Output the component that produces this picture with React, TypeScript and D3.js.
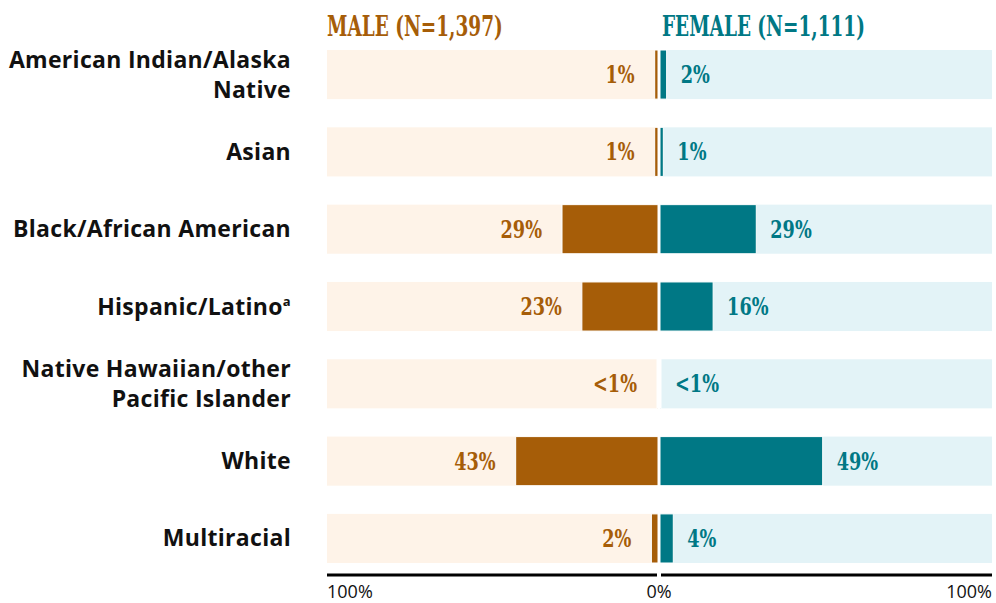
import React from 'react';
import * as d3 from 'd3';

const categories = [
  ['American Indian/Alaska', 'Native'],
  ['Asian'],
  ['Black/African American'],
  ['Hispanic/Latino'],
  ['Native Hawaiian/other', 'Pacific Islander'],
  ['White'],
  ['Multiracial'],
];
const maleValues = [1, 1, 29, 23, 0.3, 43, 2];
const femaleValues = [2, 1, 29, 16, 0.3, 49, 4];
const maleLabels = ['1%', '1%', '29%', '23%', '<1%', '43%', '2%'];
const femaleLabels = ['2%', '1%', '29%', '16%', '<1%', '49%', '4%'];
const superscripts = ['', '', '', 'a', '', '', ''];
const axisTicks = ['100%', '0%', '100%'];

const W = 996;
const H = 603;
const BROWN = '#A65D08';
const BROWN_LIGHT = '#FEF3E8';
const TEAL = '#007885';
const TEAL_LIGHT = '#E3F3F7';
const SANS = '"Open Sans", Lato, sans-serif';
const SLAB = '"DejaVu Serif Condensed", "DejaVu Serif", serif';

const App = () => {
  const cx = 659;
  const xL = d3.scaleLinear().domain([0, 100]).range([cx - 1, 327]);
  const xR = d3.scaleLinear().domain([0, 100]).range([cx + 1, 992]);
  const y = d3.scaleBand<number>()
    .domain(d3.range(categories.length))
    .range([50, 563])
    .paddingInner(0.365);
  const bw = y.bandwidth();
  const axisY = 575;

  return (
    <svg width={W} height={H} style={{ position: 'absolute', left: 0, top: 0 }}>
      <text transform="translate(327,36) scale(0.76,1)" fill={BROWN} fontFamily={SLAB}
        fontWeight={700} fontSize={27}>MALE (N=1,397)</text>
      <text transform="translate(662,36) scale(0.76,1)" fill={TEAL} fontFamily={SLAB}
        fontWeight={700} fontSize={27}>FEMALE (N=1,111)</text>

      {categories.map((lines, i) => {
        const y0 = y(i)!;
        const mid = y0 + bw / 2;
        return (
          <g key={i}>
            <rect x={xL(100)} y={y0} width={xL(0) - xL(100) - 1} height={bw} fill={BROWN_LIGHT} />
            <rect x={xR(0) + 1} y={y0} width={xR(100) - xR(0) - 1} height={bw} fill={TEAL_LIGHT} />
            <rect x={xL(maleValues[i])} y={y0} width={xL(0) - xL(maleValues[i])} height={bw}
              fill={BROWN} stroke="#fff" strokeWidth={1} />
            <rect x={xR(0)} y={y0} width={xR(femaleValues[i]) - xR(0)} height={bw}
              fill={TEAL} stroke="#fff" strokeWidth={1} />
            <text transform={`translate(${xL(maleValues[i]) - 20},${mid + 8.5}) scale(0.82,1)`}
              textAnchor="end" fill={BROWN} fontFamily={SLAB} fontWeight={700} fontSize={24}>
              {maleLabels[i]}
            </text>
            <text transform={`translate(${xR(femaleValues[i]) + 14},${mid + 8.5}) scale(0.82,1)`}
              fill={TEAL} fontFamily={SLAB} fontWeight={700} fontSize={24}>
              {femaleLabels[i]}
            </text>
            {lines.map((t, j) => (
              <text key={j} x={291} y={mid + 8 + (j - (lines.length - 1) / 2) * 30}
                textAnchor="end" fontFamily={SANS} fontWeight={700} fontSize={23}
                letterSpacing={0.3} fill="#111">
                {t}
                {j === lines.length - 1 && superscripts[i] ? (
                  <tspan fontSize={13} dy={-9}>{superscripts[i]}</tspan>
                ) : null}
              </text>
            ))}
          </g>
        );
      })}

      <line x1={xL(100)} x2={xL(0) - 1} y1={axisY} y2={axisY} stroke="#000" strokeWidth={3} />
      <line x1={xR(0) + 1} x2={xR(100)} y1={axisY} y2={axisY} stroke="#000" strokeWidth={3} />
      <text x={xL(100)} y={598} fontFamily={SANS} fontSize={18} fill="#111">{axisTicks[0]}</text>
      <text x={cx} y={598} textAnchor="middle" fontFamily={SANS} fontSize={18} fill="#111">{axisTicks[1]}</text>
      <text x={xR(100)} y={598} textAnchor="end" fontFamily={SANS} fontSize={18} fill="#111">{axisTicks[2]}</text>
    </svg>
  );
};

export default App;
